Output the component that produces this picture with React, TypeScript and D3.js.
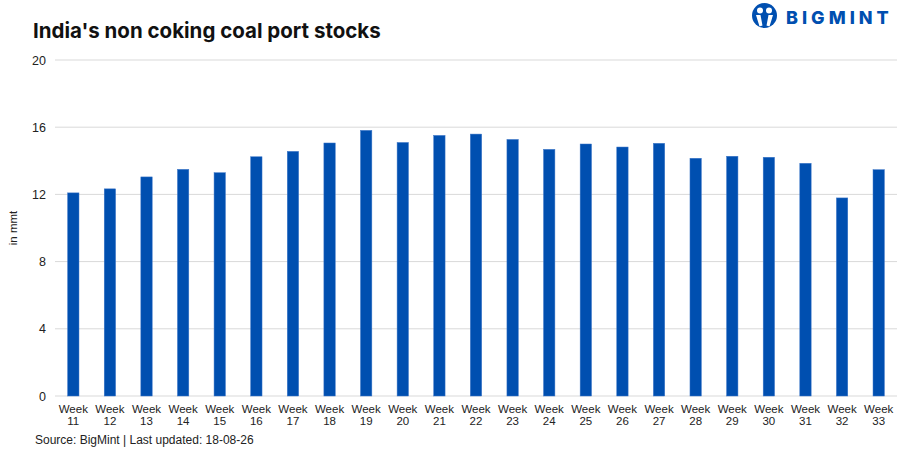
import * as d3 from 'd3';

const weeks = [
  '11', '12', '13', '14', '15', '16', '17', '18', '19', '20', '21', '22',
  '23', '24', '25', '26', '27', '28', '29', '30', '31', '32', '33',
];
const stocks = [
  12.09, 12.33, 13.04, 13.49, 13.29, 14.24, 14.56, 15.06, 15.81, 15.09, 15.51, 15.59,
  15.27, 14.68, 15.0, 14.82, 15.04, 14.15, 14.27, 14.21, 13.85, 11.79, 13.47,
];
const yTicks = [0, 4, 8, 12, 16, 20];

const W = 906;
const H = 453;
const margin = { top: 60, right: 9, bottom: 57, left: 55 };
const blue = '#004fb0';

export default function App() {
  const x = d3
    .scaleBand<string>()
    .domain(weeks)
    .range([margin.left, W - margin.right])
    .paddingInner(0.69)
    .paddingOuter(0.345);
  const y = d3
    .scaleLinear()
    .domain([0, 20])
    .range([H - margin.bottom, margin.top]);

  return (
    <svg
      width={W}
      height={H}
      style={{ position: 'absolute', left: 0, top: 0, background: '#fff' }}
      fontFamily="'Liberation Sans', Arial, sans-serif"
    >
      <text x={33} y={38} fontFamily="Inter, sans-serif" fontWeight={700} fontSize={20.5} fill="#111">
        India's non coking coal port stocks
      </text>

      {/* logo */}
      <g>
        <circle cx={764.5} cy={15.5} r={12.5} fill={blue} />
        <circle cx={760} cy={10.5} r={3} fill="#fff" />
        <circle cx={769} cy={10.5} r={3} fill="#fff" />
        <path d="M756,15 L760.5,15 L762.5,25.5 L759.5,26.5 Z" fill="#fff" />
        <path d="M773,15 L768.5,15 L766.5,25.5 L769.5,26.5 Z" fill="#fff" />
        <text
          x={786}
          y={24}
          fontFamily="Inter, sans-serif"
          fontWeight={800}
          fontSize={18}
          letterSpacing={4}
          fill={blue}
        >
          BIGMINT
        </text>
      </g>

      {/* grid */}
      {yTicks.map((t) => (
        <g key={t}>
          <line
            x1={margin.left}
            x2={W - margin.right}
            y1={y(t)}
            y2={y(t)}
            stroke="#d9d9d9"
            strokeWidth={1}
          />
          <text x={46} y={y(t) + 4.5} textAnchor="end" fontSize={12.5} fill="#222">
            {t}
          </text>
        </g>
      ))}

      <text
        transform={`translate(17,${y(10)}) rotate(-90)`}
        textAnchor="middle"
        fontSize={11.5}
        fill="#222"
      >
        in mmt
      </text>

      {/* bars */}
      {weeks.map((w, i) => (
        <rect
          key={w}
          x={x(w)}
          y={y(stocks[i])}
          width={x.bandwidth()}
          height={y(0) - y(stocks[i])}
          fill={blue}
          stroke="#3a75c8"
          strokeWidth={0.5}
        />
      ))}

      {/* x labels */}
      {weeks.map((w) => {
        const cx = (x(w) ?? 0) + x.bandwidth() / 2;
        return (
          <text key={w} x={cx} textAnchor="middle" fontSize={11.5} fill="#222">
            <tspan x={cx} y={413}>Week</tspan>
            <tspan x={cx} y={425}>{w}</tspan>
          </text>
        );
      })}

      <text x={35} y={444} fontSize={12} fill="#222">
        Source: BigMint | Last updated: 18-08-26
      </text>
    </svg>
  );
}
